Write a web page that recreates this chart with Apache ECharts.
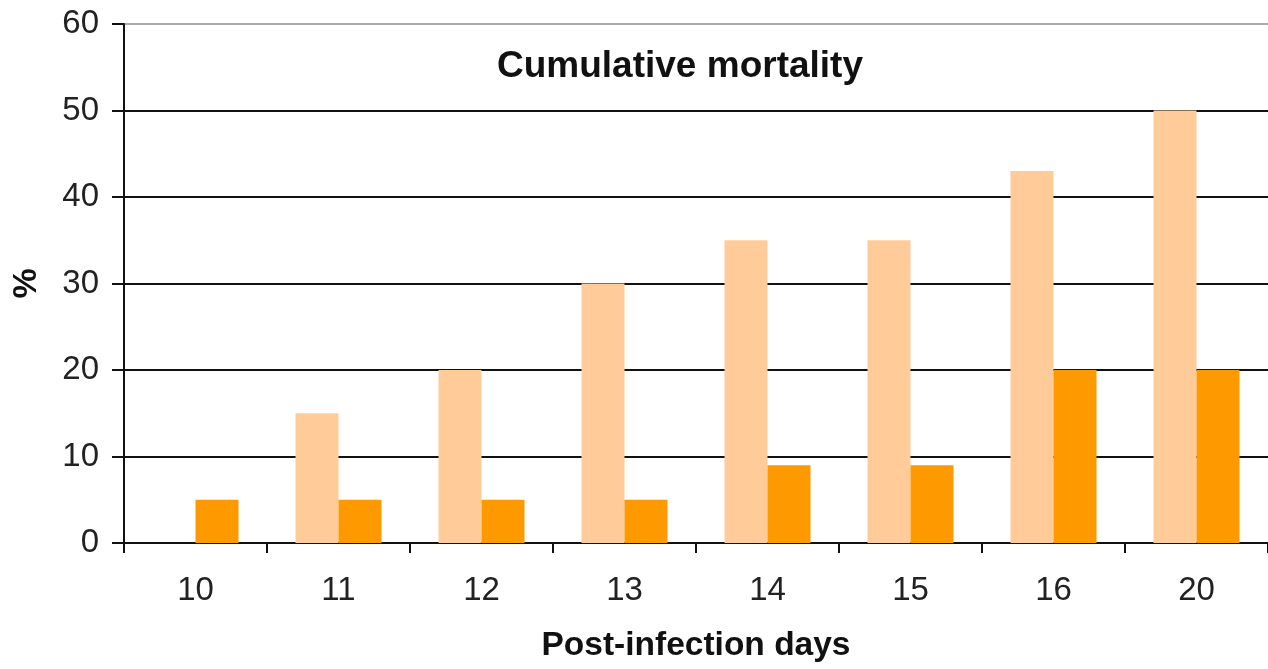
<!DOCTYPE html>
<html><head><meta charset="utf-8">
<script src="https://cdn.jsdelivr.net/npm/echarts@6/dist/echarts.min.js"></script>
<style>html,body{margin:0;padding:0;background:#fff}#c{width:1268px;height:669px}</style>
</head><body><div id="c"></div>
<script>
const categories = ['10','11','12','13','14','15','16','20'];
const seriesLight = [0, 15, 20, 30, 35, 35, 43, 50];
const seriesDark = [5, 5, 5, 5, 9, 9, 20, 20];
const chart = echarts.init(document.getElementById('c'), null, {renderer:'canvas'});
const font = '"Liberation Sans", Arial, sans-serif';
chart.setOption({
  animation:false,
  backgroundColor:'#fff',
  title:{text:'Cumulative mortality', left:675, top:43, textAlign:'center',
    textStyle:{fontFamily:font, fontSize:37, fontWeight:'bold', color:'#111'}},
  grid:{left:124, right:0, top:24, bottom:126, containLabel:false},
  xAxis:{type:'category', data:categories,
    axisLine:{lineStyle:{color:'#111', width:2}},
    axisTick:{show:true, length:10, lineStyle:{color:'#111', width:2}},
    axisLabel:{fontFamily:font, fontSize:33, color:'#222', margin:31},
    name:'Post-infection days', nameLocation:'middle', nameGap:86,
    nameTextStyle:{fontFamily:font, fontSize:33.5, fontWeight:'bold', color:'#111'}},
  yAxis:{type:'value', min:0, max:60, interval:10,
    axisLine:{show:true, lineStyle:{color:'#111', width:2}},
    axisTick:{show:true, length:12, lineStyle:{color:'#111', width:2}},
    axisLabel:{fontFamily:font, fontSize:33, color:'#222', margin:25},
    splitLine:{show:true, lineStyle:{color:['#111','#111','#111','#111','#111','#111','#aaa'], width:2}},
    name:'%', nameLocation:'middle', nameGap:80, nameRotate:90,
    nameTextStyle:{fontFamily:font, fontSize:34, fontWeight:'bold', color:'#111'}},
  series:[
    {type:'bar', data:seriesLight, barWidth:43, barGap:'0%', itemStyle:{color:'#FFCC99'}},
    {type:'bar', data:seriesDark, barWidth:43, barGap:'0%', itemStyle:{color:'#FF9900'}}
  ]
});
</script></body></html>
